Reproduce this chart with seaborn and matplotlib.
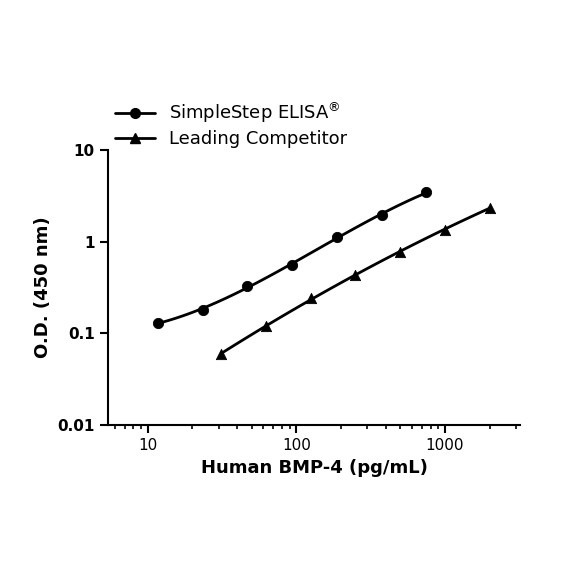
import numpy as np
import seaborn as sns
import matplotlib.pyplot as plt
import matplotlib.ticker as mtick

simple_conc = [11.7, 23.4, 46.9, 93.75, 187.5, 375, 750]
simple_od = [0.13, 0.18, 0.33, 0.56, 1.13, 1.95, 3.45]
comp_conc = [31.25, 62.5, 125, 250, 500, 1000, 2000]
comp_od = [0.06, 0.12, 0.24, 0.43, 0.78, 1.35, 2.35]

sns.set_style('ticks')
plt.rcParams['font.family'] = ['DejaVu Sans']
plt.rcParams['text.color'] = 'black'
plt.rcParams['axes.labelcolor'] = 'black'

fig = plt.figure(figsize=(5.84, 5.84), dpi=100)
ax = fig.add_axes([108 / 584, 1 - 425 / 584, 412 / 584, 275 / 584])

def fitted(x, y, ax, marker, label, deg):
    lx, ly = np.log10(x), np.log10(y)
    p = np.polyfit(lx, ly, deg)
    xs = np.linspace(lx.min(), lx.max(), 100)
    ax.plot(10 ** xs, 10 ** np.polyval(p, xs), color='black', lw=2)
    sns.scatterplot(x=x, y=y, ax=ax, marker=marker, color='black', s=55, edgecolor='black')
    ax.plot([], [], color='black', lw=2, marker=marker, ms=7, label=label)

fitted(simple_conc, simple_od, ax, 'o', 'SimpleStep ELISA$^{\\circledR}$', 3)
fitted(comp_conc, comp_od, ax, '^', 'Leading Competitor', 2)

ax.set_xscale('log')
ax.set_yscale('log')
ax.set_xlim(5.4, 3200)
ax.set_ylim(0.01, 10)
ax.set_yticks([0.01, 0.1, 1, 10])
ax.set_yticklabels(['0.01', '0.1', '1', '10'], fontweight='bold')
ax.yaxis.set_minor_locator(mtick.NullLocator())
ax.set_xticks([10, 100, 1000])
ax.set_xticklabels(['10', '100', '1000'])
ax.tick_params(axis='both', which='major', width=1.5, length=6, labelsize=11, colors='black')
ax.tick_params(axis='both', which='minor', width=1.2, length=3, colors='black')
for s in ['left', 'bottom']:
    ax.spines[s].set_linewidth(1.5)
    ax.spines[s].set_color('black')
sns.despine(ax=ax)
ax.set_xlabel('Human BMP-4 (pg/mL)', fontsize=13, fontweight='bold')
ax.set_ylabel('O.D. (450 nm)', fontsize=13, fontweight='bold')
ax.legend(loc='lower left', bbox_to_anchor=(0.0, 0.98), frameon=False, fontsize=13,
          handlelength=2.2, borderaxespad=0, labelspacing=0.3)

fig.savefig('out.png', dpi=100)
